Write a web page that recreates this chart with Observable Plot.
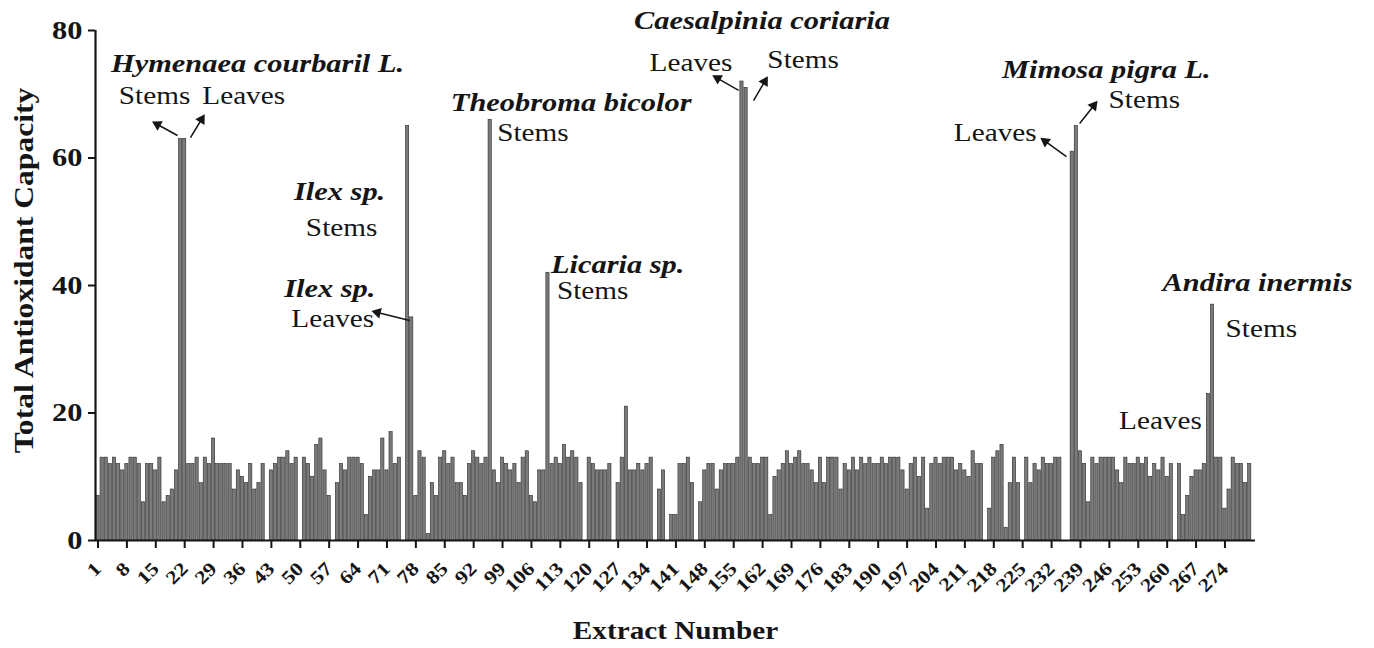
<!DOCTYPE html>
<html>
<head>
<meta charset="utf-8">
<script src="https://cdn.jsdelivr.net/npm/d3@7"></script>
<script src="https://cdn.jsdelivr.net/npm/@observablehq/plot@0.6"></script>
<style>
  html, body { margin: 0; padding: 0; background: #fff; }
  #chart svg { display: block; }
</style>
</head>
<body>
<div id="chart"></div>
<script>
// ---- data ----
const extracts = d3.range(1, 281); // extract numbers 1..280
const tac = [
  7,13,13,12,13,12,11,12,13,13,
  12,6,12,12,11,13,6,7,8,11,
  63,63,12,12,13,9,13,12,16,12,
  12,12,12,8,11,10,9,12,8,9,
  12,0,11,12,13,13,14,12,13,0,
  13,12,10,15,16,11,7,0,9,12,
  11,13,13,13,12,4,10,11,11,16,
  11,17,12,13,0,65,35,7,14,13,
  1,9,7,13,14,12,13,9,9,7,
  12,14,13,12,13,66,11,9,13,12,
  11,12,9,13,14,7,6,11,11,42,
  12,13,12,15,13,14,13,9,0,13,
  12,11,11,11,12,0,9,13,21,11,
  11,12,11,12,13,0,8,11,0,4,
  4,12,12,13,9,0,6,11,12,12,
  8,11,12,12,12,13,72,71,13,12,
  12,13,13,4,10,11,12,14,12,13,
  14,12,12,11,9,13,9,13,13,13,
  8,12,11,13,11,13,12,13,12,12,
  13,12,13,13,13,11,8,12,13,10,
  13,5,12,13,12,13,13,13,11,12,
  11,10,14,12,12,0,5,13,14,15,
  2,9,13,9,0,13,9,12,11,13,
  12,12,13,13,0,0,61,65,14,12,
  6,13,12,13,13,13,13,11,9,13,
  12,12,13,12,13,10,12,11,13,10,
  12,0,12,4,7,10,11,11,12,23,
  37,13,13,5,8,13,12,12,9,12
];
const xTicks = [1,8,15,22,29,36,43,50,57,64,71,78,85,92,99,106,113,120,127,134,141,148,155,162,169,176,183,190,197,204,211,218,225,232,239,246,253,260,267,274];
const yTicks = [0,20,40,60,80];
const yTitle = "Total Antioxidant Capacity";
const xTitle = "Extract Number";

// annotation texts anchored to bars (extract number)
const annotationBars  = [21, 21, 22, 76, 76, 77, 77, 96, 96, 110, 110, 157, 157, 158, 238, 238, 237, 271, 271, 270];
const annotationTexts = ["Hymenaea courbaril L.", "Stems", "Leaves",
  "Ilex sp.", "Stems", "Ilex sp.", "Leaves",
  "Theobroma bicolor", "Stems",
  "Licaria sp.", "Stems",
  "Caesalpinia coriaria", "Leaves", "Stems",
  "Mimosa pigra L.", "Stems", "Leaves",
  "Andira inermis", "Stems", "Leaves"];
const arrowBars = [21, 22, 77, 157, 158, 237, 238];

// ---- layout / style (pixel offsets of labels from their bar top) ----
const annotationLayout = [
  {kind: "species", dx: 77,  dy: -67, anchor: "middle"},
  {kind: "organ",   dx: -26, dy: -35, anchor: "middle"},
  {kind: "organ",   dx: 59,  dy: -35, anchor: "middle"},
  {kind: "species", dx: -68, dy: 74,  anchor: "middle"},
  {kind: "organ",   dx: -66, dy: 110, anchor: "middle"},
  {kind: "species", dx: -82, dy: -20, anchor: "middle"},
  {kind: "organ",   dx: -79, dy: 10,  anchor: "middle"},
  {kind: "species", dx: 81,  dy: -9,  anchor: "middle"},
  {kind: "organ",   dx: 7,   dy: 21,  anchor: "start"},
  {kind: "species", dx: 3,   dy: 0,   anchor: "start"},
  {kind: "organ",   dx: 9,   dy: 26,  anchor: "start"},
  {kind: "species", dx: 20,  dy: -53, anchor: "middle"},
  {kind: "organ",   dx: -51, dy: -11, anchor: "middle"},
  {kind: "organ",   dx: 57,  dy: -20, anchor: "middle"},
  {kind: "species", dx: 30,  dy: -48, anchor: "middle"},
  {kind: "organ",   dx: 68,  dy: -18, anchor: "middle"},
  {kind: "organ",   dx: -77, dy: -11, anchor: "middle"},
  {kind: "species", dx: 45,  dy: -14, anchor: "middle"},
  {kind: "organ",   dx: 13,  dy: 32,  anchor: "start"},
  {kind: "organ",   dx: -48, dy: 35,  anchor: "middle"}
];
// arrow tail / head offsets from bar top, in data units (extract, capacity)
const arrowLayout = [
  {from: [-0.74, 0.53], to: [-5.6, 2.25]},
  {from: [1.4, 0.2],    to: [4.07, 3.04]},
  {from: [-0.5, -0.5],  to: [-8.3, 0.76]},
  {from: [-0.8, -1.4],  to: [-5.9, 0.5]},
  {from: [1.8, -2.0],   to: [4.5, 1.0]},
  {from: [-1.4, -0.8],  to: [-6.5, 1.6]},
  {from: [0.8, 0.4],    to: [4.2, 3.2]}
];
const textStretch = 1.17; // the reference's type is horizontally widened

const W = 1374, H = 648;
const margin = {top: 30, right: 119, bottom: 108, left: 95};
const xDomain = [0.394, 281.4];
const pxX = (W - margin.left - margin.right) / (xDomain[1] - xDomain[0]);
const pxY = (H - margin.top - margin.bottom) / 80;
const ink = "#151515";

const bars = extracts.map((e, i) => ({extract: e, tac: tac[i]}));

const arrowSegs = arrowBars.map((b, i) => {
  const v = tac[b - 1], L = arrowLayout[i];
  const x1 = b + L.from[0], y1 = v + L.from[1];
  const x2 = b + L.to[0], y2 = v + L.to[1];
  const ang = Math.atan2((x2 - x1) * pxX, (y2 - y1) * pxY) * 180 / Math.PI;
  return {x1, y1, x2, y2, ang};
});

const textMarks = annotationBars.map((b, i) => {
  const L = annotationLayout[i];
  const sp = L.kind === "species";
  return Plot.text([{bar: b, text: annotationTexts[i]}], {
    x: "bar", y: d => tac[d.bar - 1], text: "text",
    dx: L.dx, dy: L.dy, textAnchor: L.anchor, lineAnchor: "bottom",
    fontSize: sp ? 26 : 25, fontWeight: sp ? "bold" : "normal",
    fontStyle: sp ? "italic" : "normal", fill: ink, ariaLabel: L.kind
  });
});

const chart = Plot.plot({
  width: W, height: H,
  marginTop: margin.top, marginRight: margin.right,
  marginBottom: margin.bottom, marginLeft: margin.left,
  style: {fontFamily: "'Liberation Serif', 'Times New Roman', serif", background: "#fff", color: ink, overflow: "visible"},
  x: {type: "linear", domain: xDomain, axis: null},
  y: {domain: [0, 80], axis: null},
  marks: [
    Plot.rectY(bars, {x1: d => d.extract - 0.39, x2: d => d.extract + 0.39, y: "tac",
      fill: "#7a7a7a", stroke: "#2a2a2a", strokeWidth: 0.6}),
    Plot.ruleY([0], {stroke: ink, strokeWidth: 2.2}),
    Plot.ruleX([xDomain[0]], {stroke: ink, strokeWidth: 2.2}),
    Plot.axisX({ticks: xTicks, tickSize: 8, tickPadding: 17, tickRotate: -45, strokeWidth: 2,
      fontSize: 19, fontWeight: "bold", label: null, tickFormat: d => String(d), fill: ink, stroke: ink}),
    Plot.axisY({ticks: yTicks, tickSize: 7, tickPadding: 6, strokeWidth: 2,
      fontSize: 26, fontWeight: "bold", label: null, tickFormat: d => String(d), fill: ink, stroke: ink}),
    Plot.text([xTitle], {frameAnchor: "bottom", text: d => d, dy: 98, textAnchor: "middle", lineAnchor: "bottom",
      fontSize: 25, fontWeight: "bold", fill: ink, ariaLabel: "axis title"}),
    Plot.text([yTitle], {frameAnchor: "left", text: d => d, rotate: -90, dx: -71, dy: -15,
      textAnchor: "middle", lineAnchor: "middle",
      fontSize: 27, fontWeight: "bold", fill: ink, ariaLabel: "axis title"}),
    Plot.link(arrowSegs, {x1: "x1", y1: "y1", x2: "x2", y2: "y2", stroke: ink, strokeWidth: 1.5}),
    Plot.dot(arrowSegs, {x: "x2", y: "y2", symbol: "triangle", r: 4, fill: ink, stroke: "none", rotate: "ang"}),
    ...textMarks
  ]
});

// widen every text along its own baseline, around its anchor point
chart.querySelectorAll("text").forEach(t => {
  const tr = t.getAttribute("transform");
  if (tr) {
    t.setAttribute("transform", `${tr} scale(${textStretch},1)`);
  } else {
    const x = parseFloat(t.getAttribute("x")) || 0;
    t.setAttribute("transform", `translate(${x},0) scale(${textStretch},1) translate(${-x},0)`);
  }
});
document.getElementById("chart").appendChild(chart);
</script>
</body>
</html>
